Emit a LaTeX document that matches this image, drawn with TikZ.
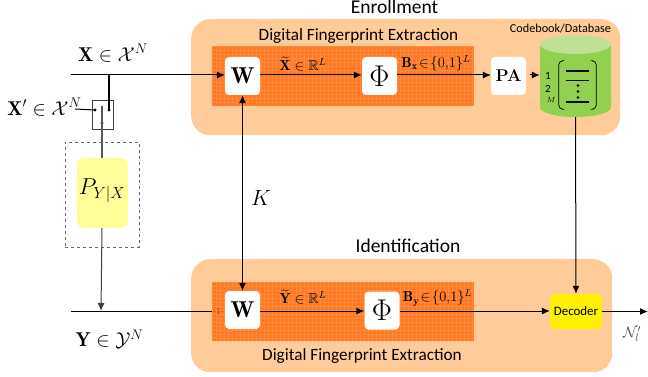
\RequirePackage{fix-cm}
\documentclass[tikz,border=0pt]{standalone}
\usepackage{amsmath,amssymb}
\usepackage{fontspec}
\newfontfamily\carl{Carlito}
\usetikzlibrary{arrows.meta}
\pgfdeclarelayer{panels}
\pgfdeclarelayer{under}
\pgfdeclarelayer{hatch}
\pgfsetlayers{panels,under,hatch,main}
\definecolor{panelc}{HTML}{FFCC99}
\definecolor{hatchc}{HTML}{FF6A10}
\definecolor{gridc}{HTML}{FF8A3A}
\definecolor{dbc}{HTML}{92D050}
\definecolor{dbtop}{HTML}{BFE095}
\definecolor{softy}{HTML}{FFFF99}
\tikzset{
  conn/.style={draw=black,line width=1pt,-{Latex[length=8pt,width=7pt]}},
  plainconn/.style={draw=black,line width=1pt},
  grayconn/.style={draw=black!65,line width=1.1pt},
  panel/.style={fill=panelc,rounded corners=19pt,inner sep=0pt,anchor=north west},
  hatchbox/.style={fill=hatchc,inner sep=0pt,anchor=north west},
  block/.style={fill=white,rounded corners=4pt,inner sep=0pt,minimum width=35pt,minimum height=38pt},
  capt/.style={font=\carl\fontsize{19.5}{22}\selectfont,inner sep=0pt},
  dot/.style={circle,fill=black,inner sep=0pt,minimum size=3.2pt},
  lab/.style={inner sep=0pt,font=\fontsize{20}{24}\selectfont},
  sublab/.style={inner sep=0pt,font=\fontsize{14.5}{17}\selectfont},
}
\begin{document}
\begin{tikzpicture}[x=1pt,y=-1pt]
\useasboundingbox (0,0) rectangle (648,377);
% panels
\begin{pgfonlayer}{panels}
\node[panel,minimum width=429pt,minimum height=116pt] (enroll) at (191,19) {};
\node[panel,minimum width=421pt,minimum height=113pt] (ident) at (191,259) {};
\end{pgfonlayer}
\begin{pgfonlayer}{hatch}
\node[hatchbox,opacity=.85,minimum width=262pt,minimum height=60pt] (h1) at (212,46) {};
\node[hatchbox,opacity=.85,minimum width=262pt,minimum height=59pt] (h2) at (212,282) {};
\foreach \yy/\hh in {46/60,282/59}{
  \begin{scope}
  \clip (212,\yy) rectangle ++(262,\hh);
  \foreach \k in {0,...,65} \draw[gridc,line width=.6pt] (212+\k*4,\yy) -- ++(0,\hh);
  \foreach \k in {0,...,15} \draw[gridc,line width=.6pt] (212,\yy+\k*4) -- ++(262,0);
  \end{scope}
}
\end{pgfonlayer}
% captions
\node[capt] (t1) at (394.5,7) {Enrollment};
\node[capt] (t2) at (408,246) {Identification};
\node[capt,font=\carl\fontsize{17.2}{20}\selectfont] (t3) at (358.5,36) {Digital Fingerprint Extraction};
\node[capt,font=\carl\fontsize{17.2}{20}\selectfont] (t4) at (362,356) {Digital Fingerprint Extraction};
\node[capt,font=\carl\fontsize{12.2}{14}\selectfont] (t5) at (560.5,29) {Codebook/Database};
% blocks
\node[block] (w1) at (242.5,76) {\fontsize{23}{25}\selectfont$\mathbf{W}$};
\node[block] (phi1) at (379.5,76) {\fontsize{30}{32}\selectfont$\Phi$};
\node[block] (pa) at (508.5,76) {\fontsize{17}{19}\selectfont\bfseries PA};
\node[block] (w2) at (242.5,310) {\fontsize{23}{25}\selectfont$\mathbf{W}$};
\node[block] (phi2) at (382,310.5) {\fontsize{30}{32}\selectfont$\Phi$};
\node[fill=yellow,rounded corners=5pt,inner sep=0pt,minimum width=52pt,minimum height=35pt,font=\carl\fontsize{12.9}{15}\selectfont] (dec) at (576,311.5) {Decoder};
\node[fill=softy,rounded corners=7pt,inner sep=0pt,minimum width=51pt,minimum height=70pt] (py) at (102.5,193) {};
\node[inner sep=0pt,font=\fontsize{23}{26}\selectfont] (pylab) at (102,191) {$P_{Y|X}$};
\node[draw=black!60,dashed,line width=.9pt,inner sep=0pt,minimum width=74pt,minimum height=105pt,anchor=north west] (chan) at (65,142) {};
% switch
\node[draw=black!75,line width=.8pt,inner sep=0pt,minimum width=21.5pt,minimum height=29pt,anchor=north west] (sw) at (91.5,100) {};
\node[dot] (s1) at (95,110) {};
\node[dot] (s2) at (109,110) {};
\node[dot] (s3) at (102,123) {};
\coordinate (swtop) at (102,106);
% database
\node[inner sep=0pt,minimum width=71pt,minimum height=82pt] (db) at (575.5,76) {};
\fill[dbc] (540,44.5) -- (540,107.5) arc[start angle=180,end angle=360,x radius=35.5,y radius=-9.5] -- (611,44.5) -- cycle;
\fill[dbtop] (575.5,44.5) ellipse[x radius=35.5,y radius=9.5];
\node[inner sep=0pt,font=\carl\fontsize{11}{13}\selectfont] (n1) at (548,76) {1};
\node[inner sep=0pt,font=\carl\fontsize{11}{13}\selectfont] (n2) at (548,88.5) {2};
\node[inner sep=0pt,font=\fontsize{7.5}{9}\selectfont] (nm) at (551,100) {$M$};
\node[inner sep=0pt,minimum width=37pt,minimum height=48pt] (mat) at (577.5,85) {};
\draw[line width=.7pt,rounded corners=4pt] (mat.north west)++(3,0) -- (mat.north west) -- (mat.south west) -- ++(3,0);
\draw[line width=.7pt,rounded corners=4pt] (mat.north east)++(-3,0) -- (mat.north east) -- (mat.south east) -- ++(-3,0);
\draw[line width=1.4pt] (566,71) -- (589,71);
\draw[line width=.8pt] (566,80.5) -- (589,80.5);
\draw[line width=1.4pt] (566,102) -- (589,102);
\foreach \yy in {85.5,91.5,97.5} \fill (578,\yy) circle[radius=1.3];
% labels
\node[lab] (lx) at (113,53) {$\mathbf{X}\in\mathcal{X}^N$};
\node[lab] (lxp) at (44.5,107) {$\mathbf{X}'\in\mathcal{X}^N$};
\node[lab] (ly) at (109.5,339) {$\mathbf{Y}\in\mathcal{Y}^N$};
\node[lab,font=\fontsize{22}{24}\selectfont] (lk) at (261,198) {$K$};
\node[sublab] (lxt) at (303,64) {$\widetilde{\mathbf{X}}\in\mathbb{R}^L$};
\node[sublab] (lyt) at (303,297) {$\widetilde{\mathbf{Y}}\in\mathbb{R}^L$};
\node[inner sep=0pt,font=\fontsize{14.5}{17}\selectfont] (lb1) at (436,63) {$\mathbf{B_x}\!\in\!\{0,\!1\}^L$};
\node[inner sep=0pt,font=\fontsize{14.5}{17}\selectfont] (lb2) at (437.5,298) {$\mathbf{B_y}\!\in\!\{0,\!1\}^L$};
\node[inner sep=0pt,font=\fontsize{15}{17}\selectfont,text=black!70] (ln) at (632,334) {$\mathcal{N}_l'$};
% free ends
\coordinate (xin) at (71,75);
\coordinate (yin) at (71,311);
\coordinate (xj) at (109,75);
\coordinate (yj) at (101,311);
\coordinate (xpin) at (75,109);
\coordinate (dout) at (648,311.5);
% connectors
\draw[conn] (xin) -- (w1.west|-xin);
\begin{pgfonlayer}{under}
\draw[conn] (yin) -- (w2.west|-yin);
\end{pgfonlayer}
\draw[plainconn,line width=1.6pt] (xj) -- (s2.center);
\draw[plainconn] (xpin) -- (s1.center);
\draw[grayconn] (swtop) -- (s3.center);
\draw[grayconn] (s3.center) -- (py.north-|s3);
\draw[conn,draw=black!75] (py.south-|s3) -- (yj);
\draw[conn] (w1.east|-xin) -- (phi1.west|-xin);
\draw[conn] (phi1.east|-xin) -- (pa.west|-xin);
\draw[conn] (pa.east|-xin) ++(3.5,0) -- (db.west|-xin);
\draw[conn,{Latex[length=8pt,width=7pt]}-{Latex[length=8pt,width=7pt]}] (w1.south) -- (w2.north);
\draw[conn] (w2.east|-yin) -- (phi2.west|-yin);
\draw[conn] (phi2.east|-yin) -- (dec.west|-yin);
\draw[conn] (db.south) -- (dec.north);
\draw[conn] (dec.east) -- (dout);
\end{tikzpicture}
\end{document}
